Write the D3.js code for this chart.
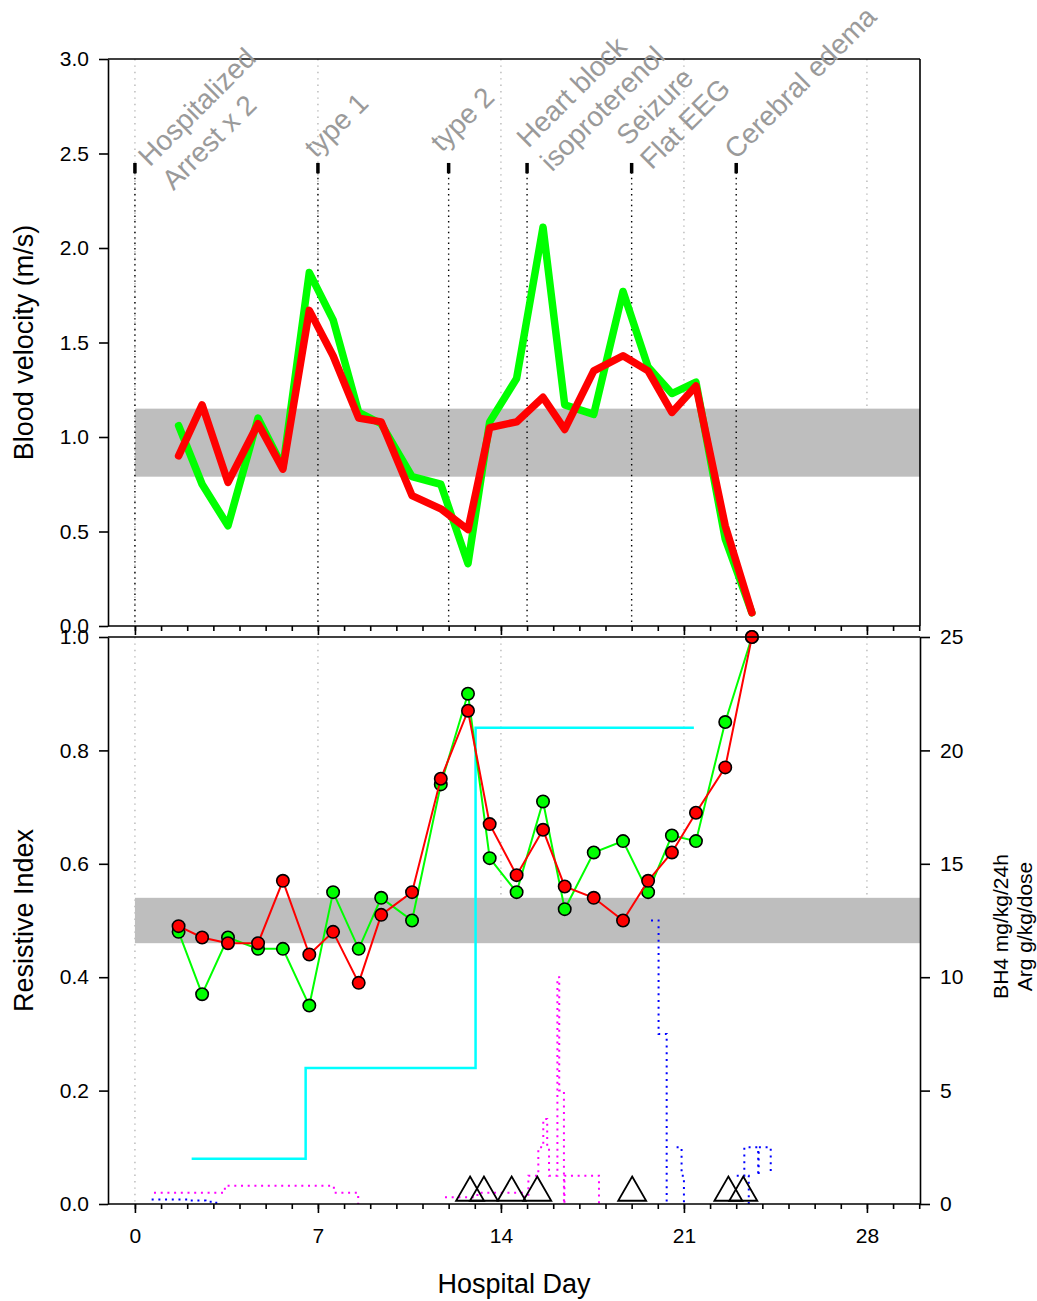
<!DOCTYPE html>
<html><head><meta charset="utf-8">
<script src="https://cdn.jsdelivr.net/npm/d3@7"></script>
<style>
body{margin:0;background:#fff}
text{font-family:"Liberation Sans",Arial,Helvetica,sans-serif}
</style>
</head><body>
<svg id="chart" width="1037" height="1301"></svg>
<script>
// ---------------- data ----------------
const days = [1.67, 2.57, 3.56, 4.71, 5.66, 6.67, 7.58, 8.56, 9.42, 10.6, 11.7, 12.74, 13.57, 14.6, 15.61, 16.44, 17.55, 18.67, 19.63, 20.54, 21.46, 22.58, 23.6];
const velGreen = [1.06, 0.75, 0.53, 1.10, 0.84, 1.87, 1.62, 1.13, 1.07, 0.79, 0.75, 0.33, 1.08, 1.31, 2.11, 1.17, 1.12, 1.77, 1.37, 1.23, 1.29, 0.46, 0.07];
const velRed   = [0.90, 1.17, 0.76, 1.07, 0.83, 1.67, 1.43, 1.10, 1.08, 0.69, 0.62, 0.51, 1.05, 1.08, 1.21, 1.04, 1.35, 1.43, 1.35, 1.13, 1.27, 0.53, 0.07];
const riGreen  = [0.48, 0.37, 0.47, 0.45, 0.45, 0.35, 0.55, 0.45, 0.54, 0.50, 0.74, 0.90, 0.61, 0.55, 0.71, 0.52, 0.62, 0.64, 0.55, 0.65, 0.64, 0.85, 1.00];
const riRed    = [0.49, 0.47, 0.46, 0.46, 0.57, 0.44, 0.48, 0.39, 0.51, 0.55, 0.75, 0.87, 0.67, 0.58, 0.66, 0.56, 0.54, 0.50, 0.57, 0.62, 0.69, 0.77, 1.00];
const velBand = [0.79, 1.15];
const riBand  = [0.46, 0.54];
const eventDays = [0, 7, 12, 15, 19, 23];
const eventLabels = [["Hospitalized","Arrest x 2"],["type 1"],["type 2"],["Heart block","isoproterenol"],["Seizure","Flat EEG"],["Cerebral edema"]];
const labelDays = [0.75, 6.66, 11.48, 15.23, 19.04, 22.72];
const labelLevels = [2.40, 2.51, 2.54, 2.50, 2.51, 2.50];
// right-axis dosing (step functions, null = break)
const bh4Steps = [[2.17,2],[6.53,6],[13.03,21],[21.38,21]];
const magentaSteps = [[0.73,0.5],[3.44,0.8],[7.61,0.5],[8.54,0],null,
  [11.86,0.3],[13.1,0.5],[14.9,0.3],[15.05,1.25],[15.43,2.5],[15.62,3.75],[15.77,2.5],[15.84,1.25],[16.16,10],[16.23,5],[16.41,0],[16.43,1.25],[17.75,0]];
const blueSteps = [[0.64,0.2],[2.1,0.15],[2.7,0.1],[3.0,0.05],[3.25,0],null,
  [19.74,12.5],[20.03,7.5],[20.34,0],null,
  [20.72,2.5],[20.91,1.25],[21.0,0],null,
  [23.02,1.25],[23.31,2.5],[23.84,1.25],[23.86,2.5],[24.32,1.25],null,
  [23.46,1.25],[23.48,0]];
const triangleDays = [12.82, 13.35, 14.41, 15.39, 19.02, 22.7, 23.27];
const velTicks = [0,0.5,1,1.5,2,2.5,3];
const riTicks = [0,0.2,0.4,0.6,0.8,1];
const rightTicks = [0,5,10,15,20,25];
const dayTicks = [0,7,14,21,28];
const minorDays = d3.range(0,31);

// ---------------- scales ----------------
const svg = d3.select("#chart");
const x = d3.scaleLinear().domain([-1.03, 30.03]).range([108, 920]);
const yTop = d3.scaleLinear().domain([0,3]).range([626, 59]);
const yBot = d3.scaleLinear().domain([0,1]).range([1204, 637]);
const yR = d3.scaleLinear().domain([0,25]).range([1204, 637]);
const GREEN="#00ff00", RED="#ff0000";

// grey reference day lines
dayTicks.forEach(d=>{
  svg.append("line").attr("x1",x(d)).attr("x2",x(d))
    .attr("y1",yTop(3)).attr("y2",yTop(d===0?0:velBand[1]))
    .attr("stroke","#b8b8b8").attr("stroke-width",1.4).attr("stroke-dasharray","1.4,5");
  svg.append("line").attr("x1",x(d)).attr("x2",x(d))
    .attr("y1",yBot(1)).attr("y2",yBot(d===0?0:riBand[1]))
    .attr("stroke","#b8b8b8").attr("stroke-width",1.4).attr("stroke-dasharray","1.4,5");
});

// bands
svg.append("rect").attr("x",x(0)).attr("width",x(30.03)-x(0))
  .attr("y",yTop(velBand[1])).attr("height",yTop(velBand[0])-yTop(velBand[1])).attr("fill","#bebebe");
svg.append("rect").attr("x",x(0)).attr("width",x(30.03)-x(0))
  .attr("y",yBot(riBand[1])).attr("height",yBot(riBand[0])-yBot(riBand[1])).attr("fill","#bebebe");

// event marks and dotted lines
eventDays.forEach(d=>{
  svg.append("line").attr("x1",x(d)).attr("x2",x(d)).attr("y1",yTop(2.40)).attr("y2",yTop(0.02))
    .attr("stroke","#000").attr("stroke-width",1.4).attr("stroke-dasharray","1.4,4");
  svg.append("line").attr("x1",x(d)).attr("x2",x(d)).attr("y1",yTop(2.45)).attr("y2",yTop(2.395))
    .attr("stroke","#000").attr("stroke-width",3.5);
});

// top panel lines
const lineTop = d3.line().x((d,i)=>x(days[i])).y(d=>yTop(d));
[[velGreen,GREEN],[velRed,RED]].forEach(([s,c])=>{
  svg.append("path").attr("d",lineTop(s)).attr("fill","none").attr("stroke",c)
    .attr("stroke-width",7.5).attr("stroke-linejoin","round").attr("stroke-linecap","round");
});

// dosing step lines
const stepLine = d3.line().defined(d=>d!==null).curve(d3.curveStepAfter).x(d=>x(d[0])).y(d=>yR(d[1]));
svg.append("path").attr("d",stepLine(magentaSteps)).attr("fill","none").attr("stroke","#ff00ff")
  .attr("stroke-width",2).attr("stroke-dasharray","2,4.7");
svg.append("path").attr("d",stepLine(blueSteps)).attr("fill","none").attr("stroke","#0000ff")
  .attr("stroke-width",2).attr("stroke-dasharray","2,4.7");
svg.append("path").attr("d",stepLine(bh4Steps)).attr("fill","none").attr("stroke","#00ffff")
  .attr("stroke-width",2.5);

// triangles
const triS = 28, triH = triS*Math.sqrt(3)/2;
triangleDays.forEach(d=>{
  const cx = x(d), cy = yBot(0.02);
  svg.append("path").attr("d",`M${cx},${cy-triH*2/3}L${cx+triS/2},${cy+triH/3}L${cx-triS/2},${cy+triH/3}Z`)
    .attr("fill","none").attr("stroke","#000").attr("stroke-width",1.8);
});

// bottom panel series
const lineBot = d3.line().x((d,i)=>x(days[i])).y(d=>yBot(d));
[[riGreen,GREEN],[riRed,RED]].forEach(([s,c])=>{
  svg.append("path").attr("d",lineBot(s)).attr("fill","none").attr("stroke",c).attr("stroke-width",2);
  svg.append("g").selectAll("circle").data(s).join("circle")
    .attr("cx",(d,i)=>x(days[i])).attr("cy",d=>yBot(d)).attr("r",6.2)
    .attr("fill",c).attr("stroke","#000").attr("stroke-width",1.6);
});

// ---------------- axes & frame ----------------
const AX = {stroke:"#000", w:1.6};
function hline(x1,x2,y){svg.append("line").attr("x1",x1).attr("x2",x2).attr("y1",y).attr("y2",y).attr("stroke",AX.stroke).attr("stroke-width",AX.w);}
function vline(xx,y1,y2){svg.append("line").attr("x1",xx).attr("x2",xx).attr("y1",y1).attr("y2",y2).attr("stroke",AX.stroke).attr("stroke-width",AX.w);}
hline(x.range()[0], x.range()[1], yTop(3));
vline(x.range()[1], yTop(3), yTop(0));
hline(x.range()[0], x.range()[1], yBot(1));

function styleAxis(g, fs){
  g.selectAll("path.domain").attr("stroke","#000").attr("stroke-width",AX.w);
  g.selectAll(".tick line").attr("stroke","#000").attr("stroke-width",AX.w);
  g.selectAll(".tick text").attr("font-size",fs).attr("fill","#000")
    .style("font-family",'"Liberation Sans",Arial,Helvetica,sans-serif');
}
// left axes
styleAxis(svg.append("g").attr("transform",`translate(${x.range()[0]},0)`)
  .call(d3.axisLeft(yTop).tickValues(velTicks).tickFormat(d3.format(".1f")).tickSize(9).tickPadding(10).tickSizeOuter(0)), 21);
styleAxis(svg.append("g").attr("transform",`translate(${x.range()[0]},0)`)
  .call(d3.axisLeft(yBot).tickValues(riTicks).tickFormat(d3.format(".1f")).tickSize(9).tickPadding(10).tickSizeOuter(0)), 21);
// right axis
styleAxis(svg.append("g").attr("transform",`translate(${x.range()[1]},0)`)
  .call(d3.axisRight(yR).tickValues(rightTicks).tickSize(10).tickPadding(10).tickSizeOuter(0)), 21);
// x axes: minor + major
function xAxes(y0, labels){
  const gMin = svg.append("g").attr("transform",`translate(0,${y0})`)
    .call(d3.axisBottom(x).tickValues(minorDays).tickSize(5).tickFormat("").tickSizeOuter(0));
  styleAxis(gMin, 21);
  gMin.select("path.domain").attr("d",`M${x.range()[0]},0H${x.range()[1]}`);
  const gMaj = svg.append("g").attr("transform",`translate(0,${y0})`)
    .call(d3.axisBottom(x).tickValues(dayTicks).tickSize(9).tickPadding(15).tickFormat(labels? d3.format("d") : ""));
  styleAxis(gMaj, 21);
  gMaj.select("path.domain").remove();
}
xAxes(yTop(0), false);
xAxes(yBot(0), true);

// axis titles
svg.append("text").attr("transform",`translate(33,${(yTop(0)+yTop(3))/2}) rotate(-90)`)
  .attr("text-anchor","middle").attr("font-size",27).text("Blood velocity (m/s)");
svg.append("text").attr("transform",`translate(33,${(yBot(0)+yBot(1))/2}) rotate(-90)`)
  .attr("text-anchor","middle").attr("font-size",27).text("Resistive Index");
svg.append("text").attr("x",(x.range()[0]+x.range()[1])/2).attr("y",1293)
  .attr("text-anchor","middle").attr("font-size",27).text("Hospital Day");
const rt = svg.append("text").attr("transform",`translate(1008,${(yR(0)+yR(25))/2 + 6}) rotate(-90)`)
  .attr("text-anchor","middle").attr("font-size",21);
rt.append("tspan").attr("x",0).attr("dy",0).text("BH4 mg/kg/24h");
rt.append("tspan").attr("x",0).attr("dy",24).text("Arg g/kg/dose");

// event annotations
eventLabels.forEach((lines,i)=>{
  const t = svg.append("text").attr("transform",`translate(${x(labelDays[i])},${yTop(labelLevels[i])}) rotate(-45)`)
    .attr("font-size",28).attr("fill","#9a9a9a");
  const L = 33.6, n = lines.length;
  lines.forEach((s,j)=>{
    t.append("tspan").attr("x",0).attr("y",(j-(n-1)/2)*L + 10).text(s);
  });
});
</script>
</body></html>
